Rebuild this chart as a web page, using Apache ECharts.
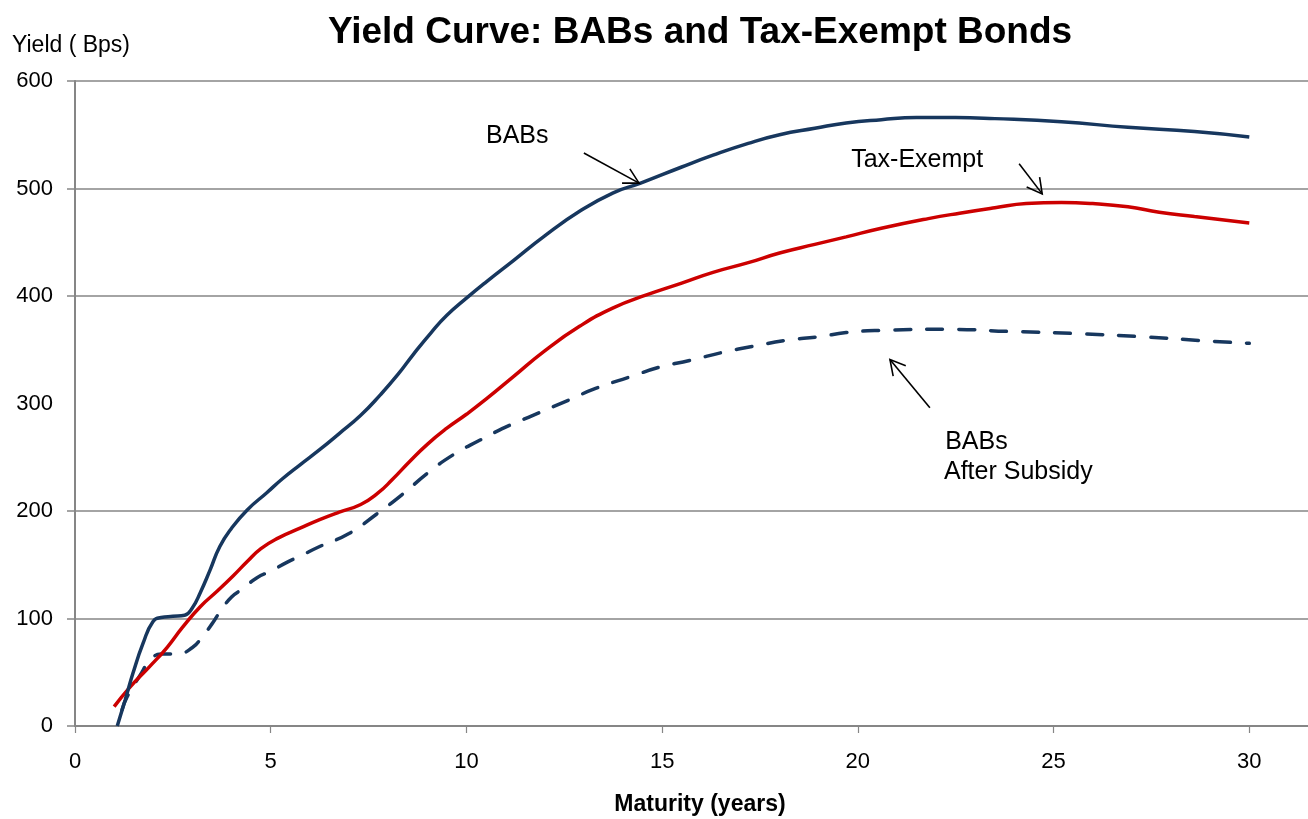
<!DOCTYPE html>
<html>
<head>
<meta charset="utf-8">
<title>Yield Curve: BABs and Tax-Exempt Bonds</title>
<script src="https://cdn.jsdelivr.net/npm/echarts@6/dist/echarts.min.js"></script>
<style>
  html, body { margin: 0; padding: 0; background: #ffffff; }
  #chart { width: 1308px; height: 819px; }
</style>
</head>
<body>
<div id="chart"></div>
<script>
// Build America Bonds yield (bps) by maturity (years)
const babsMaturity = [1.08, 1.28, 1.48, 1.74, 1.99, 2.2, 2.5, 2.8, 3.0, 3.2, 3.45, 3.7, 4.0, 4.4, 4.9, 5.3, 5.75, 6.25, 6.75, 7.3, 7.8, 8.25, 8.65, 9.1, 9.5, 10.0, 10.5, 11.2, 12.0, 12.9, 13.75, 14.45, 15.5, 16.3, 17.2, 18.0, 18.9, 19.7, 20.6, 21.5, 22.5, 23.5, 25.2, 26.9, 28.6, 30.0];
const babsYield    = [0, 24, 49, 77, 97, 101, 102, 103, 110, 124, 145, 167, 184, 201, 217, 230, 243, 257, 272, 289, 308, 327, 346, 366, 382, 398, 413, 433, 456, 479, 496, 505, 520, 531, 542, 550, 556, 561, 564, 566, 566, 565, 562, 557, 553, 548];

// Tax-exempt municipal yield (bps)
const taxExemptMaturity = [1.0, 1.4, 1.9, 2.35, 2.75, 3.2, 3.65, 4.05, 4.4, 4.75, 5.2, 5.75, 6.25, 6.75, 7.3, 7.75, 8.1, 8.55, 9.0, 9.5, 10.0, 10.5, 11.2, 12.0, 12.9, 13.75, 14.6, 15.5, 16.3, 17.2, 18.0, 18.9, 19.7, 20.6, 21.8, 22.6, 23.5, 24.3, 25.2, 26.0, 26.9, 27.7, 28.6, 30.0];
const taxExemptYield    = [18, 36, 55, 73, 92, 111, 126, 140, 153, 165, 175, 184, 192, 199, 206, 217, 229, 246, 262, 277, 290, 304, 325, 349, 372, 389, 401, 412, 422, 431, 440, 448, 455, 463, 472, 477, 482, 486, 487, 486, 483, 478, 474, 468];

// BABs yield net of the federal subsidy (bps)
const subsidyMaturity = [1.2, 1.33, 1.66, 1.92, 2.2, 2.6, 3.0, 3.25, 3.5, 3.7, 4.0, 4.3, 4.65, 5.0, 5.4, 5.75, 6.25, 7.0, 7.7, 8.35, 9.0, 9.65, 10.35, 11.0, 11.7, 12.6, 13.3, 14.2, 14.95, 15.7, 16.6, 17.3, 18.2, 19.0, 19.7, 20.6, 22.3, 23.9, 25.6, 27.3, 29.0, 30.0];
const subsidyYield    = [15, 27, 47, 61, 67, 67, 73, 83, 95, 106, 120, 128, 138, 144, 152, 158, 167, 179, 197, 215, 235, 252, 266, 278, 289, 303, 314, 325, 334, 340, 348, 353, 359, 362, 366, 368, 369, 367, 365, 362, 358, 356];

// Axis ticks
const xTickValues = [0, 5, 10, 15, 20, 25, 30];
const yLabelValues = [0, 100, 200, 300, 400, 500, 600];
const yGridValues = [0, 100, 200, 400, 500, 600];

// Callout texts and arrows, in (maturity, yield) coordinates
const calloutTexts = ['BABs', 'Tax-Exempt', 'BABs', 'After Subsidy'];
const calloutAnchors = [[10.5, 549], [19.83, 526], [22.23, 264], [22.2, 236]];
const arrowTails = [[13.0, 533], [24.12, 523], [21.84, 296]];
const arrowHeads = [[14.41, 505], [24.71, 495], [20.82, 341]];

const FONT = '"Liberation Sans", Arial, Helvetica, sans-serif';
const NAVY = '#17375E';
const RED = '#CC0000';
const GRID_GRAY = '#868686';

function pairs(xs, ys) {
  return xs.map(function (x, i) { return [x, ys[i]]; });
}

const chart = echarts.init(document.getElementById('chart'), null, { renderer: 'canvas' });

chart.setOption({
  animation: false,
  backgroundColor: '#ffffff',
  grid: {
    left: 75, right: 0, top: 81, bottom: 93,
    containLabel: false,
    outerBoundsMode: 'none'
  },
  xAxis: {
    type: 'value',
    min: 0,
    max: 31.5,
    interval: 5,
    axisLine: { show: true, lineStyle: { color: GRID_GRAY, width: 2 } },
    axisTick: {
      show: true, inside: false, length: 7,
      customValues: xTickValues,
      lineStyle: { color: GRID_GRAY, width: 1.2 }
    },
    axisLabel: {
      customValues: xTickValues,
      color: '#000', fontFamily: FONT, fontSize: 22, margin: 25
    },
    splitLine: { show: false }
  },
  yAxis: {
    type: 'value',
    min: 0,
    max: 600,
    interval: 100,
    axisLine: { show: true, lineStyle: { color: GRID_GRAY, width: 2 } },
    axisTick: {
      show: true, inside: false, length: 8,
      customValues: yGridValues,
      lineStyle: { color: GRID_GRAY, width: 1.5 }
    },
    axisLabel: {
      customValues: yLabelValues,
      color: '#000', fontFamily: FONT, fontSize: 22, margin: 22
    },
    splitLine: { show: true, lineStyle: { color: GRID_GRAY, width: 1.5 } }
  },
  series: [
    {
      name: 'BABs After Subsidy',
      type: 'line',
      data: pairs(subsidyMaturity, subsidyYield),
      smooth: 0.5,
      symbol: 'none',
      lineStyle: { color: NAVY, width: 3.5, type: [16, 16], cap: 'round' },
      z: 2
    },
    {
      name: 'Tax-Exempt',
      type: 'line',
      data: pairs(taxExemptMaturity, taxExemptYield),
      smooth: 0.5,
      symbol: 'none',
      lineStyle: { color: RED, width: 3.5 },
      z: 3
    },
    {
      name: 'BABs',
      type: 'line',
      data: pairs(babsMaturity, babsYield),
      smooth: 0.5,
      symbol: 'none',
      lineStyle: { color: NAVY, width: 3.5 },
      z: 4
    }
  ]
});

// Titles, axis names, callouts and arrows
function toPx(p) {
  return chart.convertToPixel({ gridIndex: 0 }, p);
}

const graphics = [
  {
    type: 'text', x: 700, y: 33,
    style: {
      text: 'Yield Curve: BABs and Tax-Exempt Bonds',
      font: 'bold 37px ' + FONT, fill: '#000',
      align: 'center', verticalAlign: 'middle'
    }
  },
  {
    type: 'text', x: 12, y: 46,
    style: {
      text: 'Yield ( Bps)',
      font: '23px ' + FONT, fill: '#000',
      align: 'left', verticalAlign: 'middle'
    }
  },
  {
    type: 'text', x: 700, y: 805,
    style: {
      text: 'Maturity (years)',
      font: 'bold 23px ' + FONT, fill: '#000',
      align: 'center', verticalAlign: 'middle'
    }
  }
];

calloutTexts.forEach(function (t, i) {
  const p = toPx(calloutAnchors[i]);
  graphics.push({
    type: 'text', x: p[0], y: p[1],
    style: {
      text: t, font: '25px ' + FONT, fill: '#000',
      align: 'left', verticalAlign: 'middle'
    }
  });
});

arrowTails.forEach(function (tail, i) {
  const a = toPx(tail);
  const b = toPx(arrowHeads[i]);
  const ang = Math.atan2(b[1] - a[1], b[0] - a[0]);
  const len = 17, spread = 0.5;
  const l = [b[0] - len * Math.cos(ang - spread), b[1] - len * Math.sin(ang - spread)];
  const r = [b[0] - len * Math.cos(ang + spread), b[1] - len * Math.sin(ang + spread)];
  graphics.push({
    type: 'polyline',
    shape: { points: [a, b] },
    style: { stroke: '#000', lineWidth: 1.6, fill: null },
    z: 10
  });
  graphics.push({
    type: 'polyline',
    shape: { points: [l, b, r] },
    style: { stroke: '#000', lineWidth: 1.6, fill: null },
    z: 10
  });
});

chart.setOption({ graphic: graphics });
</script>
</body>
</html>
